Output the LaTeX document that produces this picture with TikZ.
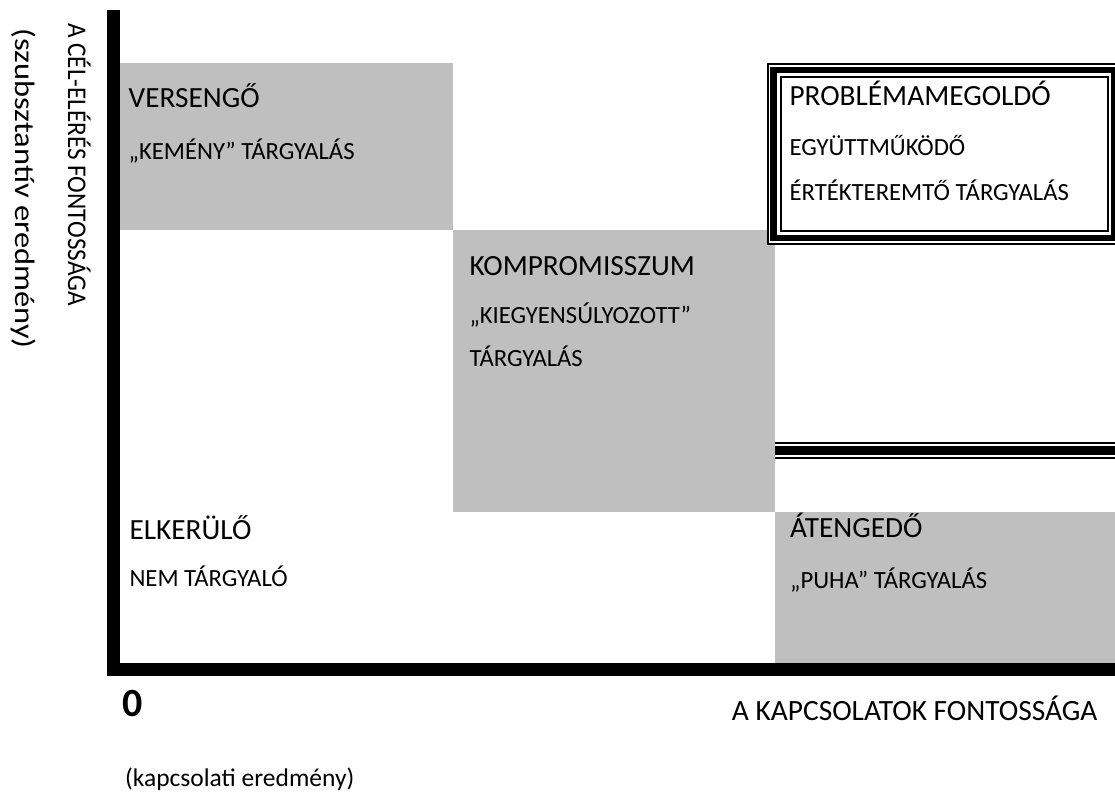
\documentclass[tikz,border=0pt]{standalone}
\usepackage{fontspec}
\setmainfont{Carlito}
\definecolor{boxgray}{RGB}{191,191,191}
\begin{document}
\begin{tikzpicture}[x=1pt,y=-1pt,
  title/.style={anchor=base west,inner sep=0pt,font=\fontsize{29.3}{35}\selectfont},
  sub/.style={anchor=base west,inner sep=0pt,font=\fontsize{24.7}{30}\selectfont},
  axislab/.style={anchor=base west,inner sep=0pt,font=\fontsize{29.4}{35}\selectfont}]
\useasboundingbox (0,0) rectangle (1115,796);
\begin{scope}
\clip (0,0) rectangle (1115,796);
% gray quadrants
\fill[boxgray] (120,63) rectangle (453,230);
\fill[boxgray] (453,230) rectangle (775,512);
\fill[boxgray] (775,512) rectangle (1115,663);
% problem-solving box with triple border
\fill[white] (767,63) rectangle (1121,245);
\draw[line width=2pt] (768,64) rectangle (1120,244);
\draw[line width=6.5pt] (773.7,69.8) rectangle (1114.3,238);
\draw[line width=2pt] (780.5,77) rectangle (1107.7,230.5);
% triple line on the right
\draw[line width=2.2pt] (775,443) -- (1115,443);
\draw[line width=9pt] (775,450.5) -- (1115,450.5);
\draw[line width=2pt] (775,457.7) -- (1115,457.7);
% axes
\fill[black] (107,10) rectangle (120,676);
\fill[black] (107,663) rectangle (1115,676);
\end{scope}
% texts
\node[title] (versengo) at (128.5,107.3) {VERSENGŐ};
\node[sub] (kemeny) at (128.5,159.3) {„KEMÉNY” TÁRGYALÁS};
\node[title] (kompr) at (469.3,275) {KOMPROMISSZUM};
\node[sub] (kiegy) at (469.3,323.3) {„KIEGYENSÚLYOZOTT”};
\node[sub] (targy) at (469.3,366.7) {TÁRGYALÁS};
\node[title] (elkerulo) at (129.3,539.3) {ELKERÜLŐ};
\node[sub] (nemtargy) at (129.3,586) {NEM TÁRGYALÓ};
\node[title] (atengedo) at (790,537.3) {ÁTENGEDŐ};
\node[sub] (puha) at (790,588.3) {„PUHA” TÁRGYALÁS};
\node[title] (problema) at (789.3,105) {PROBLÉMAMEGOLDÓ};
\node[sub] (egyutt) at (789.3,155) {EGYÜTTMŰKÖDŐ};
\node[sub] (ertek) at (789.3,200) {ÉRTÉKTEREMTŐ TÁRGYALÁS};
\node[anchor=base west,inner sep=0pt,font=\bfseries\fontsize{40}{44}\selectfont] (zero) at (122,716) {0};
\node[axislab] (kapcs) at (731.7,720) {A KAPCSOLATOK FONTOSSÁGA};
\node[anchor=base west,inner sep=0pt,font=\fontsize{25.5}{30}\selectfont] (kapcseredm) at (125,786) {(kapcsolati eredmény)};
\node[anchor=base west,inner sep=0pt,rotate=-90,font=\fontsize{27}{32}\selectfont] (celeler) at (68,23) {\scalebox{0.933}[1]{A CÉL-ELÉRÉS FONTOSSÁGA}};
\node[anchor=base west,inner sep=0pt,rotate=-90,font=\fontsize{28}{33}\selectfont] (szubszt) at (15,28) {\scalebox{1.16}[1]{(szubsztantív eredmény)}};
\end{tikzpicture}
\end{document}
